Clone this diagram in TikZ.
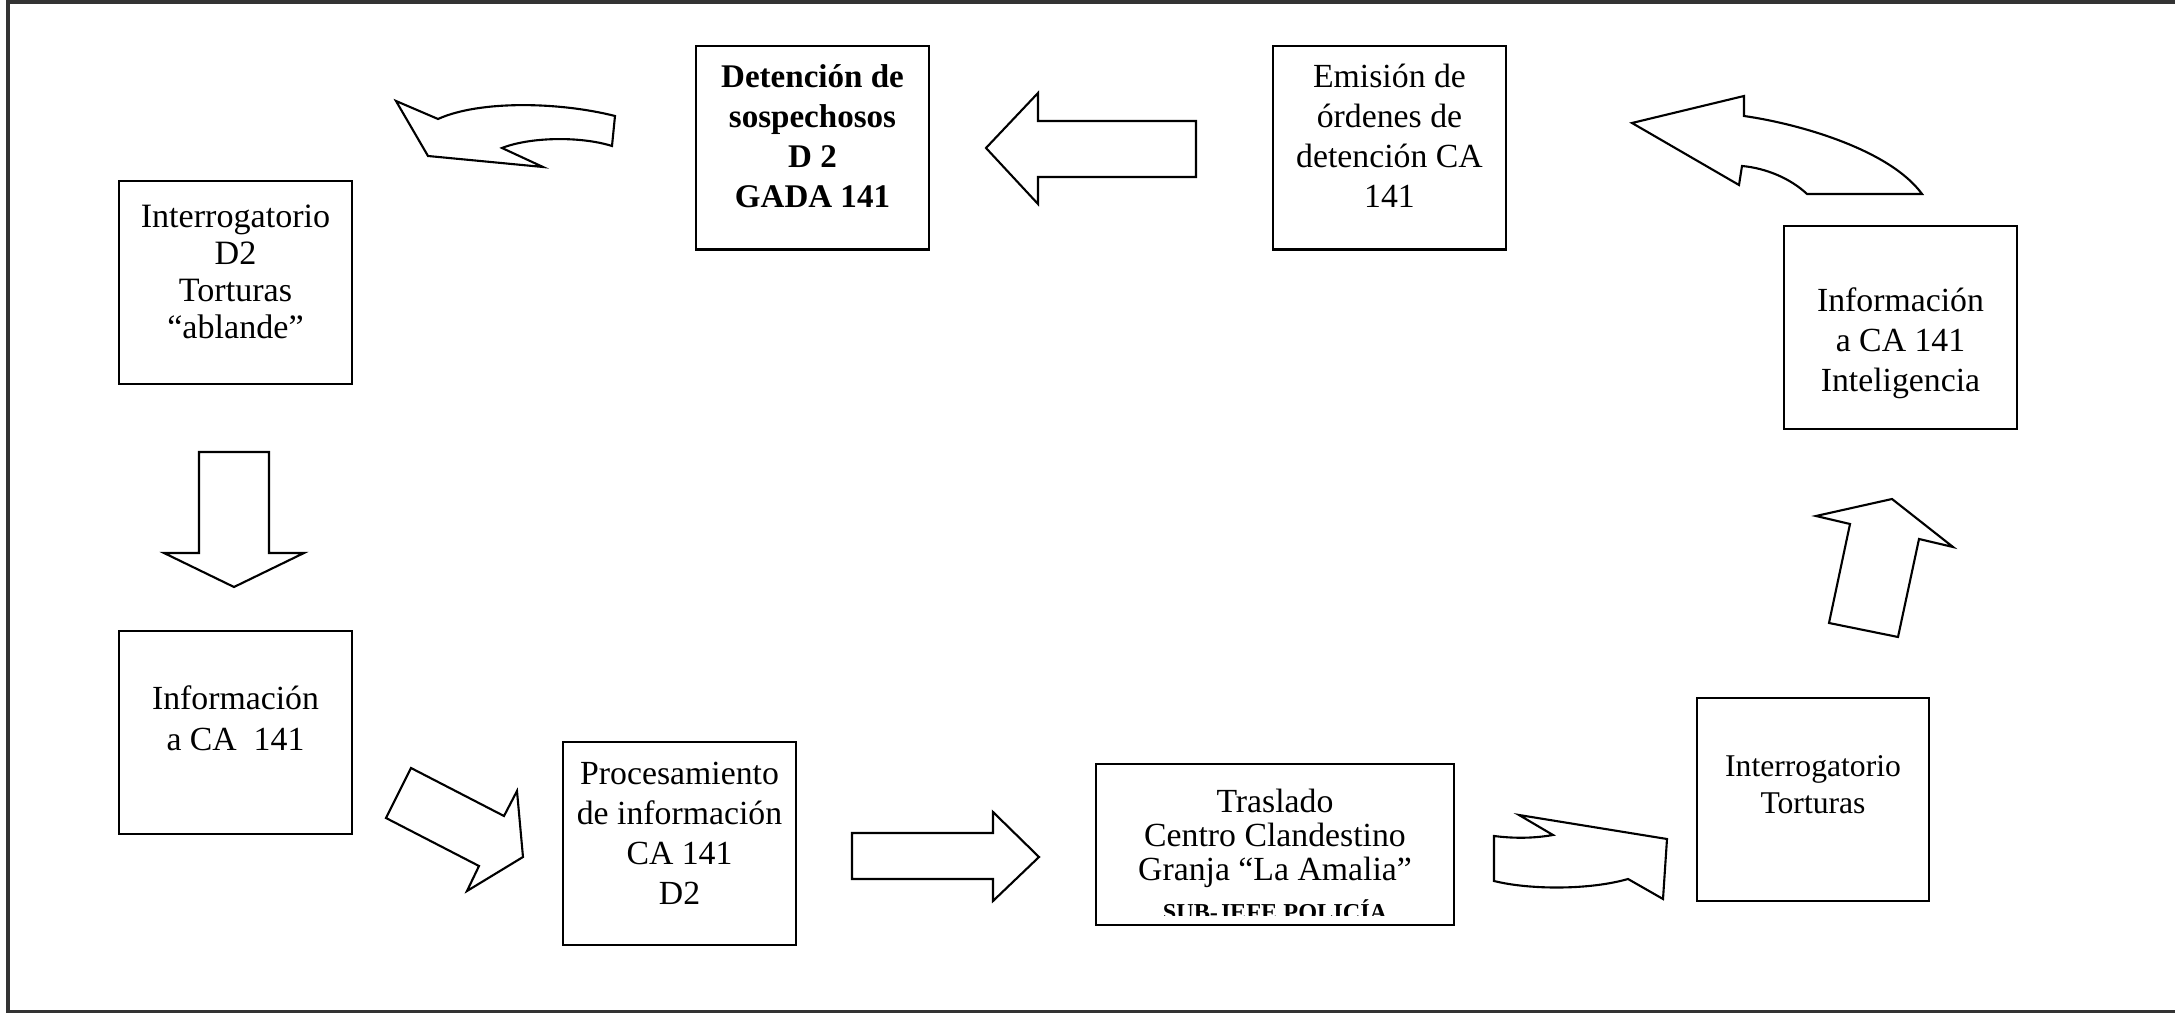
\documentclass[tikz,border=0pt]{standalone}
\usepackage{fontspec}
\setmainfont{Liberation Serif}
\newcommand{\lineas}[2]{\raisebox{#1}[\height][\depth]{\begin{tabular}{@{}c@{}}#2\end{tabular}}}

\begin{document}
\begin{tikzpicture}[x=0.01cm,y=-0.01cm,
  caja/.style={shape=rectangle,draw=black,line width=0.6pt,minimum width=2.33cm,minimum height=2.03cm,inner sep=0pt,font=\fontsize{9.6}{11.4}\selectfont},
  flecha/.style={draw=black,line width=0.6pt,line join=miter}]
\useasboundingbox (0,0) rectangle (2175,1013);
\draw[gray!40!black,line width=0.9pt] (8,2) rectangle (2180,1012);

\node[caja,font=\fontsize{9.7}{10.5}\selectfont] (interrogatorio) at (235.5,282.5) {\lineas{2pt}{Interrogatorio\\D2\\Torturas\\“ablande”}};
\node[caja,font=\fontsize{9.4}{11.4}\selectfont\bfseries] (detencion) at (812.5,148) {\lineas{2.4pt}{Detención de\\sospechosos\\D 2\\GADA 141}};
\node[caja] (emision) at (1389.5,148) {\lineas{2.4pt}{Emisión de\\órdenes de\\detención CA\\141}};
\node[caja] (inteligencia) at (1900.5,327.5) {\lineas{-4.5pt}{Información\\a CA 141\\Inteligencia}};
\node[caja] (informacion) at (235.5,732.5) {\lineas{3pt}{Información\\a CA~~141}};
\node[caja] (procesamiento) at (679.5,843.5) {\lineas{2pt}{Procesamiento\\de información\\CA 141\\D2}};
\node[caja,minimum width=3.58cm,minimum height=1.61cm,font=\fontsize{9.6}{9.7}\selectfont] (traslado) at (1275,844.5) {\lineas{1.4pt}{Traslado\\Centro Clandestino\\Granja “La Amalia”}};
\node[caja,minimum width=2.32cm,font=\fontsize{9.0}{10.5}\selectfont] (torturas) at (1813,799.5) {\lineas{3.5pt}{Interrogatorio\\Torturas}};

\begin{scope}
\clip (1098,766) rectangle (1452,916);
\node[anchor=base,inner sep=0pt,font=\fontsize{6.9}{8}\selectfont\bfseries] (subjefe) at (1275,921) {SUB-JEFE POLICÍA};
\end{scope}

\draw[flecha] (396,101) -- (438,119) .. controls (480,100) and (560,102) .. (615,116) -- (612,146) .. controls (580,136) and (530,137) .. (502,148) -- (543,167) -- (428,156) -- cycle;
\draw[flecha] (986,148) -- (1038,93) -- (1038,121) -- (1196,121) -- (1196,177) -- (1038,177) -- (1038,204) -- cycle;
\draw[flecha] (1632,123) -- (1744,96) -- (1744,116) .. controls (1800,124) and (1890,150) .. (1922,194) -- (1807,194) .. controls (1790,178) and (1765,168) .. (1742,166) -- (1739,185) -- cycle;
\draw[flecha] (199,452) -- (269,452) -- (269,553) -- (304,553) -- (234,587) -- (164,553) -- (199,553) -- cycle;
\draw[flecha] (411,768) -- (504,816) -- (517,791) -- (523,857) -- (467,891) -- (479,866) -- (386,818) -- cycle;
\draw[flecha] (852,833) -- (993,833) -- (993,812) -- (1039,857) -- (993,901) -- (993,879) -- (852,879) -- cycle;
\draw[flecha] (1519,815) -- (1553,835) .. controls (1530,839) and (1510,838) .. (1494,836) -- (1494,881) .. controls (1530,890) and (1590,890) .. (1628,879) -- (1663,899) -- (1667,839) -- cycle;
\draw[flecha] (1892,499) -- (1953,547) -- (1919,539) -- (1898,637) -- (1829,623) -- (1850,524) -- (1816,516) -- cycle;
\end{tikzpicture}
\end{document}
